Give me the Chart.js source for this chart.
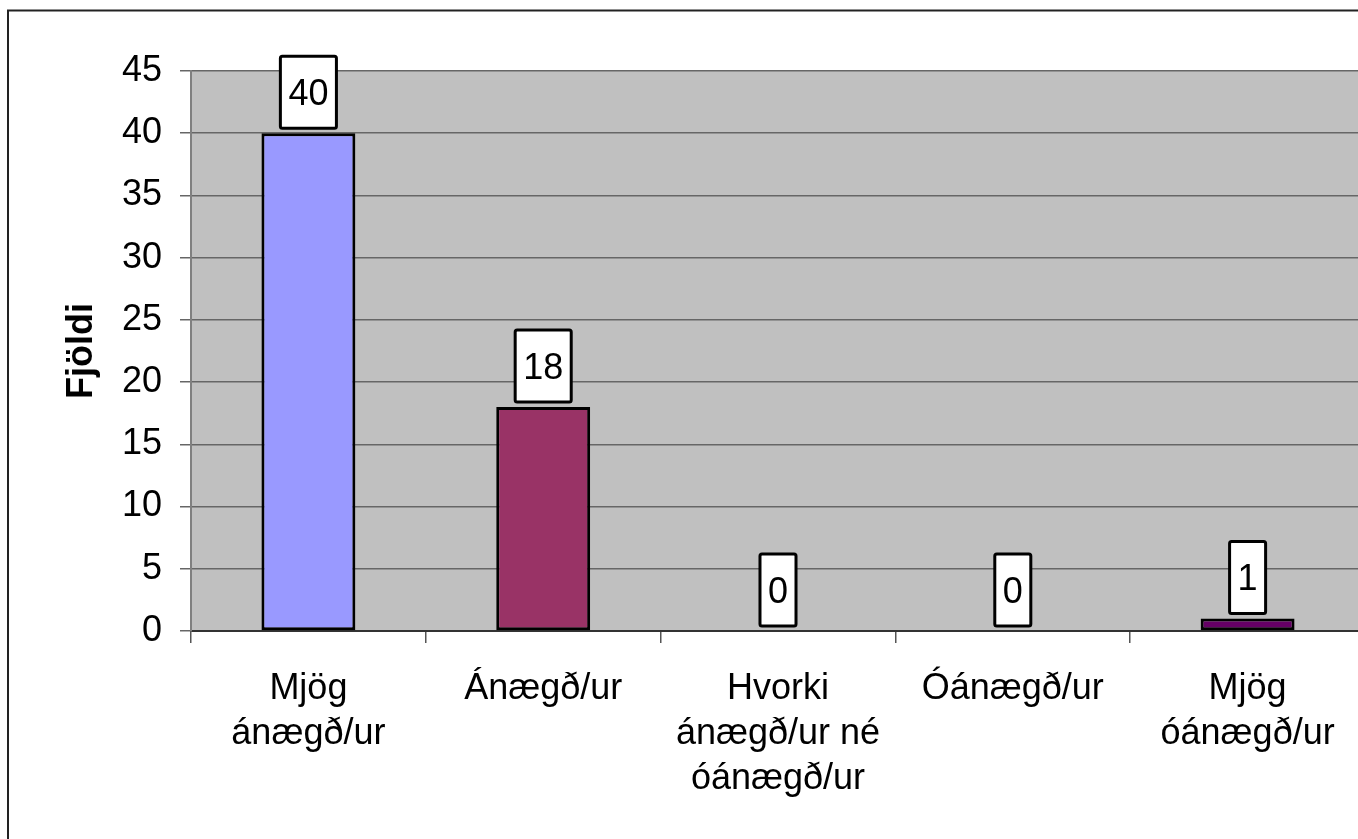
<!DOCTYPE html>
<html>
<head>
<meta charset="utf-8">
<script src="https://cdn.jsdelivr.net/npm/chart.js@4/dist/chart.umd.min.js"></script>
<style>
  html, body { margin: 0; padding: 0; background: #fff; overflow: hidden; }
  #wrap { position: absolute; left: 0; top: 0; width: 1400px; height: 900px; }
</style>
</head>
<body>
<div id="wrap"><canvas id="chart" width="1400" height="900"></canvas></div>
<script>
// --- data ---
const categories = [
  ['Mjög', 'ánægð/ur'],
  'Ánægð/ur',
  ['Hvorki', 'ánægð/ur né', 'óánægð/ur'],
  'Óánægð/ur',
  ['Mjög', 'óánægð/ur']
];
const counts = [40, 18, 0, 0, 1];
const barColors = ['#9999FF', '#993366', '#FFFFCC', '#CCFFFF', '#660066'];
const yTicks = [0, 5, 10, 15, 20, 25, 30, 35, 40, 45];
const yTitle = 'Fjöldi';

const FONT = '"Liberation Sans", Arial, sans-serif';

// gray plot background + outer frame
const framePlugin = {
  id: 'frame',
  beforeDraw(chart) {
    const { ctx, chartArea: a } = chart;
    ctx.save();
    ctx.fillStyle = '#C0C0C0';
    ctx.fillRect(a.left, a.top, a.right - a.left, a.bottom - a.top);
    ctx.restore();
  },
  afterDraw(chart) {
    const ctx = chart.ctx;
    ctx.save();
    ctx.strokeStyle = '#222';
    ctx.lineWidth = 2;
    ctx.strokeRect(8, 10.5, 1380, 950);
    ctx.restore();
  }
};

// white boxed value labels above each bar
const valueBoxes = {
  id: 'valueBoxes',
  afterDatasetsDraw(chart) {
    const ctx = chart.ctx;
    const meta = chart.getDatasetMeta(0);
    ctx.save();
    ctx.font = '36px ' + FONT;
    ctx.textAlign = 'center';
    ctx.textBaseline = 'middle';
    meta.data.forEach((bar, i) => {
      const txt = String(counts[i]);
      const w = ctx.measureText(txt).width + 16;
      const h = 72;
      const bottom = bar.y - 5;
      const x = bar.x - w / 2;
      ctx.beginPath();
      ctx.roundRect(x, bottom - h, w, h, 2);
      ctx.fillStyle = '#fff';
      ctx.fill();
      ctx.lineWidth = 3;
      ctx.strokeStyle = '#000';
      ctx.stroke();
      ctx.fillStyle = '#000';
      ctx.fillText(txt, bar.x, bottom - h / 2 + 3);
    });
    ctx.restore();
  }
};

new Chart(document.getElementById('chart'), {
  type: 'bar',
  data: {
    labels: categories,
    datasets: [{
      data: counts,
      backgroundColor: barColors,
      borderColor: '#000',
      borderWidth: 3,
      borderSkipped: false,
      barPercentage: 0.4,
      categoryPercentage: 1
    }]
  },
  options: {
    responsive: false,
    animation: false,
    layout: { padding: { left: 60, top: 71, right: 35, bottom: 0 } },
    plugins: { legend: { display: false }, tooltip: { enabled: false } },
    scales: {
      x: {
        offset: true,
        grid: { offset: true, drawOnChartArea: false, drawTicks: true, tickLength: 12, color: '#555', lineWidth: 1.5 },
        border: { color: '#333', width: 2 },
        ticks: { color: '#000', font: { family: FONT, size: 36, lineHeight: 1.25 }, padding: 24, maxRotation: 0, autoSkip: false },
        afterFit(scale) { scale.height = 269; }
      },
      y: {
        min: 0,
        max: 45,
        afterBuildTicks(scale) { scale.ticks = yTicks.map(v => ({ value: v })); },
        grid: { color: '#666', lineWidth: 1.5, tickLength: 11 },
        border: { color: '#808080', width: 2 },
        ticks: { color: '#000', font: { family: FONT, size: 36 }, padding: 18 },
        title: { display: true, text: yTitle, color: '#000', font: { family: FONT, size: 36, weight: 'bold', lineHeight: 1.2 }, padding: { top: 0, bottom: 0 } },
        afterFit(scale) { scale.width = 131; }
      }
    }
  },
  plugins: [framePlugin, valueBoxes]
});
</script>
</body>
</html>
